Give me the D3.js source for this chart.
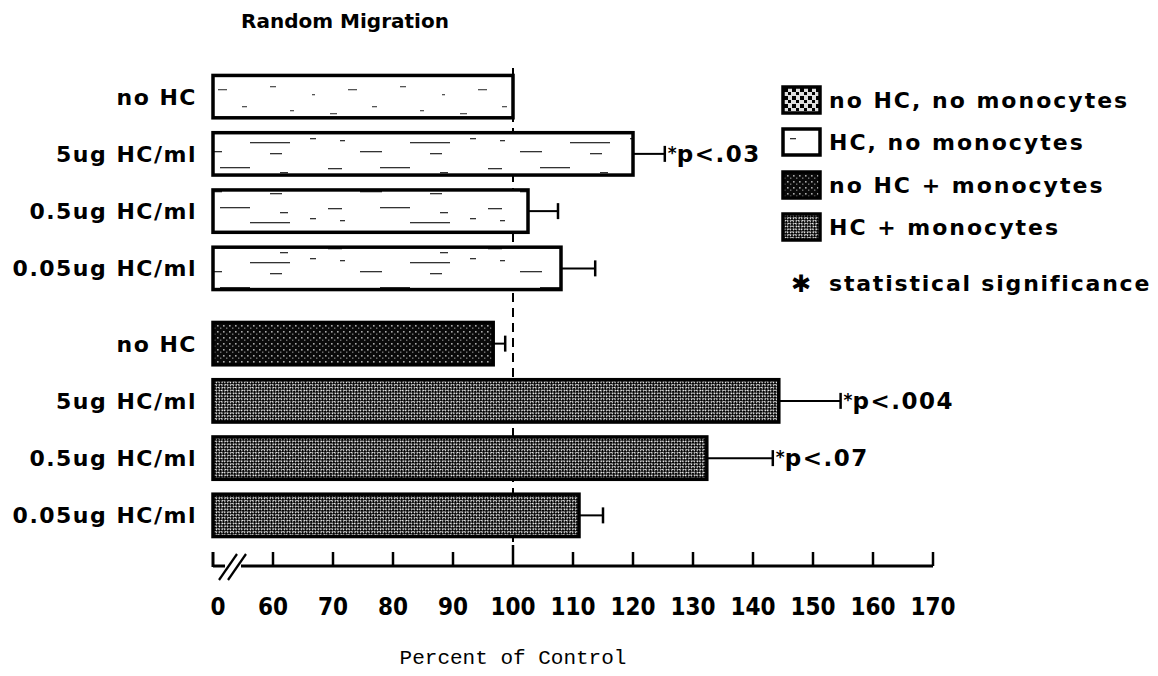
<!DOCTYPE html>
<html lang="en">
<head>
<meta charset="UTF-8">
<title>Random Migration</title>
<script src="https://cdn.jsdelivr.net/npm/d3@7"></script>
<style>
    body { margin: 0; background: #fff; }
    svg { display: block; }
    .lbl { font-family: "DejaVu Sans", sans-serif; font-weight: bold; fill: #000; }
    .tick-lbl { font-family: "Liberation Sans Narrow", "DejaVu Sans Condensed", "Liberation Sans", sans-serif; font-weight: bold; }
    .mono { font-family: "Liberation Mono", "DejaVu Sans Mono", monospace; }
</style>
</head>
<body>
<div id="chart"></div>
<script>
    // values (percent of control)
    var doses = ["no HC", "5ug HC/ml", "0.5ug HC/ml", "0.05ug HC/ml"];
    var noMonoValues = [100, 120, 102.5, 108];
    var noMonoErrors = [0, 5.3, 5, 5.7];
    var noMonoSig = ["", "p<.03", "", ""];
    var monoValues = [96.7, 144.3, 132.3, 111];
    var monoErrors = [2, 10.3, 11, 4];
    var monoSig = ["", "p<.004", "p<.07", ""];
    var tickValues = [0, 60, 70, 80, 90, 100, 110, 120, 130, 140, 150, 160, 170];
    var legendLabels = ["no HC, no monocytes", "HC, no monocytes", "no HC + monocytes", "HC + monocytes"];
    var legendFills = ["plainLeg", "hc", "dark", "check"];

    var width = 1158, height = 676;

    var rows = [];
    doses.forEach(function(d, i) {
        rows.push({key: "a" + i, label: d, value: noMonoValues[i], err: noMonoErrors[i], sig: noMonoSig[i], group: 0,
                   fill: i === 0 ? "plain" : "hc"});
    });
    doses.forEach(function(d, i) {
        rows.push({key: "b" + i, label: d, value: monoValues[i], err: monoErrors[i], sig: monoSig[i], group: 1,
                   fill: i === 0 ? "dark" : "check"});
    });

    var svg = d3.select("#chart").append("svg")
        .attr("width", width)
        .attr("height", height);

    // fill textures (scanned look)
    var defs = svg.append("defs");
    function streaks(id, w, h, bg, fg, list) {
        var p = defs.append("pattern").attr("id", id).attr("patternUnits", "userSpaceOnUse")
            .attr("width", w).attr("height", h);
        p.append("rect").attr("width", w).attr("height", h).attr("fill", bg);
        list.forEach(function(s) {
            p.append("rect").attr("x", s[0]).attr("y", s[1]).attr("width", s[2]).attr("height", s[3] || 1.3).attr("fill", fg);
        });
    }
    streaks("plain", 130, 40, "#fff", "#555", [[10, 6, 6], [52, 14, 3], [88, 9, 9], [112, 26, 5], [30, 30, 4], [70, 33, 7]]);
    streaks("hc", 160, 40, "#fff", "#333", [[8, 8, 14], [60, 7, 30], [120, 12, 8], [20, 20, 5], [90, 22, 40],
                                            [40, 31, 22], [110, 33, 12], [150, 18, 6]]);
    streaks("plainLeg", 8, 8, "#ddd", "#000", [[0, 0, 4, 4], [4, 4, 3, 3]]);

    var p3 = defs.append("pattern").attr("id", "dark").attr("patternUnits", "userSpaceOnUse")
        .attr("width", 6).attr("height", 6);
    p3.append("rect").attr("width", 6).attr("height", 6).attr("fill", "#0a0a0a");
    p3.append("rect").attr("x", 1).attr("y", 1).attr("width", 1.6).attr("height", 1.6).attr("fill", "#aaa");
    p3.append("rect").attr("x", 4).attr("y", 3.5).attr("width", 1.4).attr("height", 1.4).attr("fill", "#777");
    var p4 = defs.append("pattern").attr("id", "check").attr("patternUnits", "userSpaceOnUse")
        .attr("width", 4).attr("height", 4).attr("patternTransform", "rotate(45)");
    p4.append("rect").attr("width", 4).attr("height", 4).attr("fill", "#eee");
    p4.append("rect").attr("width", 2.6).attr("height", 2.6).attr("fill", "#000");
    p4.append("rect").attr("x", 2).attr("y", 2).attr("width", 2.6).attr("height", 2.6).attr("fill", "#000");

    // broken axis: 0 then 60..170
    var x = d3.scaleLinear().domain([0, 60, 170]).range([213, 273, 933]);

    var groupGap = 18;
    var yBand = d3.scaleBand()
        .domain(rows.map(function(d) { return d.key; }))
        .range([68, 526])
        .paddingInner(0.26)
        .paddingOuter(0.13);
    function yTop(d) { return yBand(d.key) + (d.group === 1 ? groupGap : 0); }
    function yMid(d) { return yTop(d) + yBand.bandwidth() / 2; }

    // title
    svg.append("text").attr("class", "lbl")
        .attr("x", 345).attr("y", 28)
        .attr("text-anchor", "middle")
        .attr("font-size", 20)
        .text("Random Migration");

    // reference line at 100
    svg.append("line")
        .attr("x1", x(100)).attr("x2", x(100))
        .attr("y1", 68).attr("y2", 548)
        .attr("stroke", "#000").attr("stroke-width", 2)
        .attr("stroke-dasharray", "9,6");

    // bars
    var bars = svg.selectAll(".bar").data(rows).enter().append("g").attr("class", "bar");
    bars.append("rect")
        .attr("x", x(0))
        .attr("y", yTop)
        .attr("width", function(d) { return x(d.value) - x(0); })
        .attr("height", yBand.bandwidth())
        .attr("fill", function(d) { return "url(#" + d.fill + ")"; })
        .attr("stroke", "#000")
        .attr("stroke-width", 3.5);

    // error bars
    var errs = bars.filter(function(d) { return d.err > 0; });
    errs.append("line")
        .attr("x1", function(d) { return x(d.value); })
        .attr("x2", function(d) { return x(d.value + d.err); })
        .attr("y1", yMid).attr("y2", yMid)
        .attr("stroke", "#000").attr("stroke-width", 2);
    errs.append("line")
        .attr("x1", function(d) { return x(d.value + d.err); })
        .attr("x2", function(d) { return x(d.value + d.err); })
        .attr("y1", function(d) { return yMid(d) - 8; })
        .attr("y2", function(d) { return yMid(d) + 8; })
        .attr("stroke", "#000").attr("stroke-width", 2.5);

    // significance notes
    var sig = errs.filter(function(d) { return d.sig !== ""; }).append("text")
        .attr("class", "lbl")
        .attr("x", function(d) { return x(d.value + d.err) + 3; })
        .attr("y", function(d) { return yMid(d) + 8; })
        .attr("font-size", 23);
    sig.append("tspan").attr("font-size", 17).attr("dy", -3).text("*");
    sig.append("tspan").attr("dy", 3).attr("letter-spacing", 1.5).text(function(d) { return d.sig; });

    // row labels
    svg.selectAll(".rowlbl").data(rows).enter().append("text")
        .attr("class", "lbl")
        .attr("x", 197)
        .attr("y", function(d) { return yMid(d) + 8; })
        .attr("text-anchor", "end")
        .attr("font-size", 22)
        .attr("letter-spacing", 1.5)
        .text(function(d) { return d.label; });

    // x axis
    var axisY = 566;
    var ax = svg.append("g").attr("stroke", "#000").attr("fill", "none");
    ax.append("line").attr("x1", x(0)).attr("x2", x(0) + 12).attr("y1", axisY).attr("y2", axisY).attr("stroke-width", 3);
    ax.append("line").attr("x1", x(0) + 28).attr("x2", x(170)).attr("y1", axisY).attr("y2", axisY).attr("stroke-width", 3);
    ax.append("line").attr("x1", x(0)).attr("x2", x(0)).attr("y1", axisY + 1).attr("y2", axisY - 14).attr("stroke-width", 3);
    ax.append("line").attr("x1", x(0) + 6).attr("x2", x(0) + 24).attr("y1", axisY + 14).attr("y2", axisY - 12).attr("stroke-width", 2.2);
    ax.append("line").attr("x1", x(0) + 15).attr("x2", x(0) + 33).attr("y1", axisY + 14).attr("y2", axisY - 12).attr("stroke-width", 2.2);
    ax.selectAll(".tk").data(tickValues.filter(function(v) { return v >= 60; })).enter().append("line")
        .attr("x1", function(v) { return x(v); })
        .attr("x2", function(v) { return x(v); })
        .attr("y1", axisY)
        .attr("y2", function(v) { return v === 100 ? axisY - 21 : axisY - 14; })
        .attr("stroke-width", 2.5);

    svg.selectAll(".ticklbl").data(tickValues).enter().append("text")
        .attr("class", "tick-lbl")
        .attr("x", function(v) { return v === 0 ? x(0) + 5 : x(v); })
        .attr("y", 615)
        .attr("text-anchor", "middle")
        .attr("font-size", 24)
        .text(function(v) { return v; });

    svg.append("text").attr("class", "mono")
        .attr("x", 513).attr("y", 664)
        .attr("text-anchor", "middle")
        .attr("font-size", 21)
        .text("Percent of Control");

    // legend
    var legRowY = [100, 142, 185, 227];
    var leg = svg.selectAll(".leg").data(legendLabels).enter().append("g").attr("class", "leg");
    leg.append("rect")
        .attr("x", 783)
        .attr("y", function(d, i) { return legRowY[i] - 13; })
        .attr("width", 37).attr("height", 26)
        .attr("fill", function(d, i) { return "url(#" + legendFills[i] + ")"; })
        .attr("stroke", "#000").attr("stroke-width", 3.5);
    leg.append("text")
        .attr("class", "lbl")
        .attr("x", 829)
        .attr("y", function(d, i) { return legRowY[i] + 8; })
        .attr("font-size", 22)
        .attr("letter-spacing", 2)
        .text(function(d) { return d; });

    svg.append("text").attr("class", "lbl")
        .attr("x", 801).attr("y", 292)
        .attr("text-anchor", "middle")
        .attr("font-size", 24)
        .text("\u2731");
    svg.append("text").attr("class", "lbl")
        .attr("x", 829).attr("y", 291)
        .attr("font-size", 22)
        .attr("letter-spacing", 1.8)
        .text("statistical significance");
</script>
</body>
</html>
